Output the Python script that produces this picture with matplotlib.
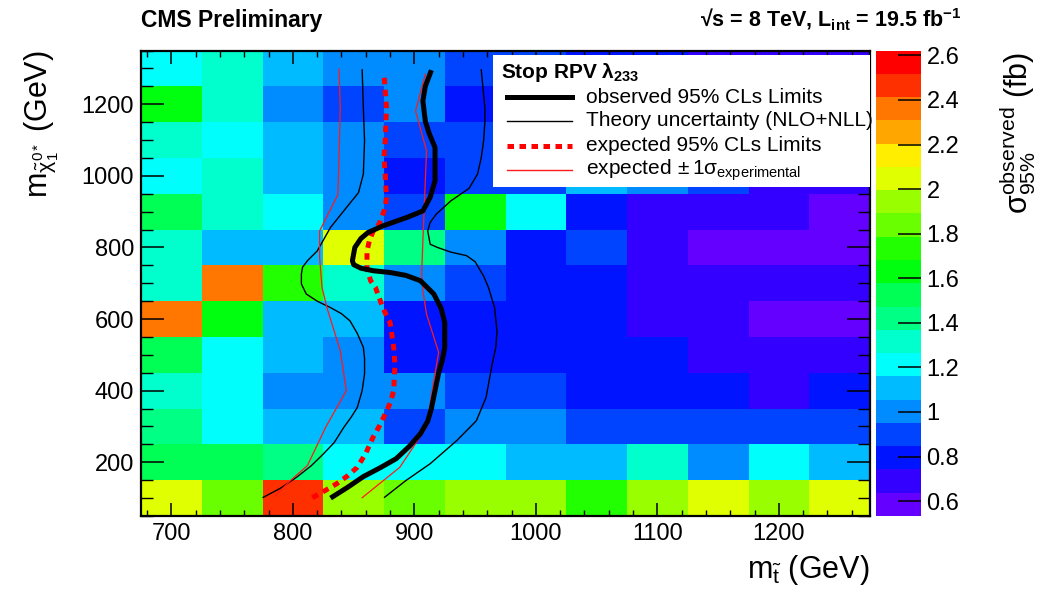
import colorsys
import numpy as np
import matplotlib
matplotlib.use("Agg")
import matplotlib.pyplot as plt
from matplotlib.colors import ListedColormap, BoundaryNorm
from matplotlib.ticker import MultipleLocator, FuncFormatter
from matplotlib.patches import Rectangle
from matplotlib.lines import Line2D

plt.rcParams['font.family'] = ['Liberation Sans', 'DejaVu Sans']
plt.rcParams['mathtext.fontset'] = 'custom'
plt.rcParams['mathtext.rm'] = 'Liberation Sans'
plt.rcParams['mathtext.it'] = 'Liberation Sans'
plt.rcParams['mathtext.bf'] = 'Liberation Sans:bold'

# ---- data -------------------------------------------------------------
stop_mass = [700, 750, 800, 850, 900, 950, 1000, 1050, 1100, 1150, 1200, 1250]
chi_mass = [100, 200, 300, 400, 500, 600, 700, 800, 900, 1000, 1100, 1200, 1300]

# observed 95% CL cross-section limit (fb), one row per neutralino mass
xsec_limit = [
    [2.05, 1.84, 2.47, 1.94, 1.84, 1.94, 1.94, 1.73, 1.94, 2.05, 1.94, 2.05],
    [1.53, 1.53, 1.42, 1.21, 1.21, 1.21, 1.11, 1.11, 1.32, 1.00, 1.21, 1.11],
    [1.42, 1.21, 1.11, 1.11, 0.90, 1.00, 1.00, 0.90, 0.90, 0.90, 0.90, 0.90],
    [1.32, 1.21, 1.00, 1.00, 1.00, 0.90, 0.90, 0.79, 0.79, 0.79, 0.69, 0.79],
    [1.53, 1.21, 1.11, 1.00, 0.79, 0.79, 0.79, 0.79, 0.79, 0.69, 0.69, 0.69],
    [2.36, 1.63, 1.11, 1.11, 0.79, 0.79, 0.79, 0.79, 0.69, 0.69, 0.59, 0.59],
    [1.32, 2.36, 1.73, 1.32, 1.00, 0.90, 0.79, 0.79, 0.69, 0.69, 0.69, 0.69],
    [1.32, 1.11, 1.11, 2.05, 1.42, 1.00, 0.79, 0.90, 0.69, 0.59, 0.59, 0.59],
    [1.53, 1.32, 1.21, 1.00, 0.90, 1.63, 1.21, 0.79, 0.69, 0.69, 0.69, 0.59],
    [1.21, 1.32, 1.11, 1.00, 0.79, 0.90, 0.90, 1.11, 1.00, 0.90, 0.69, 0.69],
    [1.32, 1.21, 1.11, 1.00, 0.90, 0.90, 0.90, 0.79, 0.79, 0.69, 0.69, 0.69],
    [1.63, 1.32, 1.00, 0.90, 1.00, 0.79, 0.79, 0.79, 0.69, 0.69, 0.69, 0.69],
    [1.21, 1.32, 1.11, 1.00, 1.00, 0.90, 0.90, 0.79, 0.79, 0.69, 0.69, 0.69],
]
z_min, z_max = 0.533, 2.622

# exclusion contours (stop mass, neutralino mass)
obs_x = [831, 845, 858, 872, 885, 896, 905, 911, 914, 917, 920, 923, 925, 925, 922, 916, 905,
         893, 880, 866, 856, 850, 849, 851, 856, 862, 874, 894, 907, 913, 917, 917, 917, 912,
         909, 907, 909, 914]
obs_y = [100, 130, 160, 185, 210, 245, 280, 315, 350, 400, 450, 485, 520, 590, 630, 670, 707,
         722, 730, 735, 742, 752, 763, 800, 825, 842, 860, 884, 902, 940, 986, 1030, 1079, 1120,
         1153, 1209, 1250, 1295]

exp_x = [816, 826, 836, 845, 853, 860, 866, 871, 876, 880, 883, 884, 883, 881, 880, 877, 874,
         868, 864, 861, 861, 863, 866, 871, 876, 877, 876, 875, 876, 877, 875]
exp_y = [101, 120, 140, 162, 186, 225, 270, 300, 335, 365, 400, 474, 520, 567, 590, 610, 632,
         688, 707, 740, 790, 819, 845, 865, 911, 939, 1005, 1051, 1098, 1190, 1284]

th_lo_x = [775, 790, 803, 815, 825, 834, 842, 848, 853, 857, 859, 859, 858, 853, 847, 840, 831,
           820, 811, 807, 807, 808, 812, 820, 831, 844, 854, 858, 859, 858, 857]
th_lo_y = [101, 128, 158, 190, 223, 255, 298, 326, 353, 400, 447, 490, 521, 560, 595, 615, 632,
           650, 670, 698, 726, 745, 763, 790, 856, 911, 953, 1005, 1098, 1190, 1298]

th_hi_x = [875, 893, 913, 935, 951, 959, 964, 967, 968, 966, 961, 957, 950, 943, 930, 919, 913,
           911, 913, 918, 930, 945, 952, 955, 957, 958, 958, 955]
th_hi_y = [101, 149, 196, 261, 316, 381, 474, 520, 567, 632, 688, 720, 760, 777, 787, 800, 809,
           846, 870, 893, 930, 965, 1005, 1050, 1098, 1150, 1190, 1298]

exp_lo_x = [785, 798, 812, 827, 844, 839, 828, 824, 822, 822, 837, 838, 839, 838]
exp_lo_y = [105, 149, 191, 298, 400, 512, 632, 688, 772, 846, 947, 1051, 1190, 1298]

exp_hi_x = [857, 888, 910, 916, 920, 910, 907, 906, 907, 910, 901, 909]
exp_hi_y = [101, 186, 298, 428, 507, 614, 679, 726, 819, 1070, 1181, 1284]

cbar_ticks = [0.6, 0.8, 1.0, 1.2, 1.4, 1.6, 1.8, 2.0, 2.2, 2.4, 2.6]

# ---- palette: 20 levels taken from a violet-to-red HLS rainbow ----------
n_levels = 20
colors = []
for j in range(n_levels):
    idx = int((j + 0.99) * 50 / n_levels)
    hue = 280.0 - (idx + 1) * 280.0 / 50
    colors.append(colorsys.hls_to_rgb(hue / 360.0, 0.5, 1.0))
cmap = ListedColormap(colors)
levels = np.linspace(z_min, z_max, n_levels + 1)
norm = BoundaryNorm(levels, cmap.N)

# ---- figure -------------------------------------------------------------
W, H = 1038, 590
fig = plt.figure(figsize=(W / 100, H / 100), dpi=100)

def fx(px):
    return px / W

def fy(py):
    return 1 - py / H

ax_l, ax_r, ax_t, ax_b = 141, 870, 50.5, 516
ax = fig.add_axes([fx(ax_l), fy(ax_b), fx(ax_r) - fx(ax_l), fy(ax_t) - fy(ax_b)])

xs = np.asarray(stop_mass, float)
ys = np.asarray(chi_mass, float)
x_edges = np.concatenate([xs - 25, [xs[-1] + 25]])
y_edges = np.concatenate([ys - 50, [ys[-1] + 50]])
mesh = ax.pcolormesh(x_edges, y_edges, np.asarray(xsec_limit), cmap=cmap, norm=norm,
                     edgecolors='none', antialiased=False)

ax.plot(th_lo_x, th_lo_y, color='black', lw=1.0, solid_capstyle='butt')
ax.plot(th_hi_x, th_hi_y, color='black', lw=1.0, solid_capstyle='butt')
ax.plot(exp_lo_x, exp_lo_y, color='#ff1a1a', lw=0.9)
ax.plot(exp_hi_x, exp_hi_y, color='#ff1a1a', lw=0.9)
ax.plot(exp_x, exp_y, color='#ff0000', lw=3.6, linestyle=(0, (1.3, 1.1)), dash_capstyle='butt')
ax.plot(obs_x, obs_y, color='black', lw=3.6, solid_capstyle='butt', solid_joinstyle='round')

ax.set_xlim(x_edges[0], x_edges[-1])
ax.set_ylim(y_edges[0], y_edges[-1])
ax.xaxis.set_major_locator(MultipleLocator(100))
ax.xaxis.set_minor_locator(MultipleLocator(20))
ax.yaxis.set_major_locator(MultipleLocator(200))
ax.yaxis.set_minor_locator(MultipleLocator(50))
ax.tick_params(axis='both', which='both', direction='in', top=True, right=True,
               labelsize=17, colors='black')
ax.tick_params(axis='x', which='major', length=9.5, width=1.1, pad=5)
ax.tick_params(axis='x', which='minor', length=4.5, width=1.0)
ax.tick_params(axis='y', which='major', length=16.5, width=1.1, pad=5)
ax.tick_params(axis='y', which='minor', length=8.5, width=1.0)
for sp in ax.spines.values():
    sp.set_linewidth(1.6)
ax.set_axisbelow(False)

# legend box
ax.add_patch(Rectangle((0.483, 0.707), 0.517, 0.283, transform=ax.transAxes,
                       facecolor='white', edgecolor='none', zorder=5))
ax.text(0.494, 0.952, r'Stop RPV λ$_{\mathbf{233}}$', transform=ax.transAxes,
        fontsize=15, fontweight='bold', va='center', ha='left', zorder=6)
legend_rows = [
    (0.900, dict(color='black', lw=3.6), 'observed 95% CLs Limits'),
    (0.849, dict(color='black', lw=1.0), 'Theory uncertainty (NLO+NLL)'),
    (0.795, dict(color='#ff0000', lw=3.6, linestyle=(0, (1.3, 1.1))), 'expected 95% CLs Limits'),
    (0.743, dict(color='#ff1a1a', lw=1.0), r'expected$\,\pm1\sigma_{\mathrm{experimental}}$'),
]
for yy, style, label in legend_rows:
    ax.add_line(Line2D([0.502, 0.591], [yy, yy], transform=ax.transAxes, zorder=6, **style))
    ax.text(0.610, yy, label, transform=ax.transAxes, fontsize=15, va='center', ha='left',
            zorder=6)

# colour scale
cax = fig.add_axes([fx(876), fy(ax_b), fx(921) - fx(876), fy(ax_t) - fy(ax_b)])
cb = fig.colorbar(mesh, cax=cax, ticks=cbar_ticks)
cb.outline.set_visible(False)
cax.yaxis.set_major_formatter(FuncFormatter(lambda v, p: f'{v:g}'))
cax.tick_params(axis='y', which='major', direction='in', length=16.5, width=1.1,
                labelsize=17, pad=4, right=True)
cax.tick_params(axis='y', which='minor', length=0)

# titles and axis labels
fig.text(fx(141), fy(20), 'CMS Preliminary', fontsize=16.5, fontweight='bold',
         ha='left', va='center')
fig.text(fx(962), fy(20), r'√s = 8 TeV, L$_{\mathbf{int}}$ = 19.5 fb$^{\mathbf{-1}}$',
         fontsize=15.5, fontweight='bold', ha='right', va='center')
fig.text(fx(870), fy(570), r'm$_{\tilde{t}}$ (GeV)', fontsize=22, ha='right', va='center')
fig.text(fx(42), fy(50), r'm$_{\tilde{\chi}^{0*}_{1}}$ (GeV)', fontsize=22, rotation=90,
         ha='center', va='top')
fig.text(fx(1018), fy(52), r'σ$^{\mathrm{observed}}_{95\%}$ (fb)', fontsize=22,
         rotation=90, ha='center', va='top')

fig.savefig('out.png', dpi=100)
